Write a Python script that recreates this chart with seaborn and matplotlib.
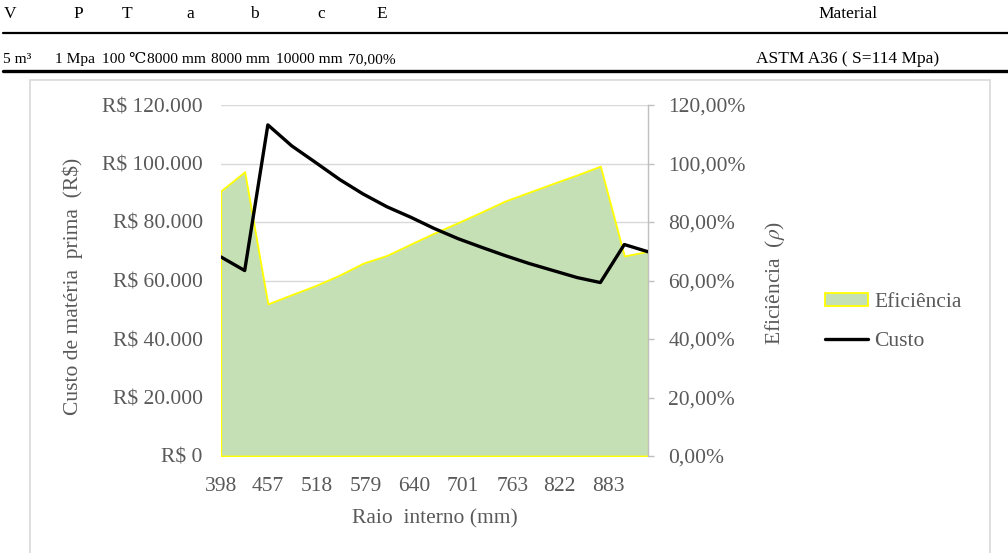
import matplotlib
matplotlib.use("Agg")
import matplotlib.pyplot as plt
import seaborn as sns
import pandas as pd
from matplotlib.patches import Patch, Rectangle
from matplotlib.lines import Line2D
from matplotlib.ticker import FuncFormatter, FixedLocator

# ---------------- data ----------------
raio_mm = [398, 428, 457, 487, 517, 547, 576, 606, 636, 665,
           695, 725, 754, 784, 814, 844, 873, 903, 933]
custo_rs = [68100, 63400, 113200, 106000, 100300, 94500, 89600, 85200, 81600, 77800,
            74300, 71300, 68500, 65800, 63400, 61000, 59300, 72300, 69800]
eficiencia_pct = [90.6, 97.2, 52.0, 55.2, 58.3, 61.9, 65.9, 68.6, 72.5, 76.2,
                  79.8, 83.5, 87.2, 90.2, 93.2, 96.1, 99.1, 68.4, 70.0]
x_tick_values = [398, 457, 518, 579, 640, 701, 763, 822, 883]
custo_ticks = [0, 20000, 40000, 60000, 80000, 100000, 120000]
efic_ticks = [0, 20, 40, 60, 80, 100, 120]

table_header = ["V", "P", "T", "a", "b", "c", "E", "Material"]
table_values = ["5 m³", "1 Mpa", "100 ℃", "8000 mm", "8000 mm", "10000 mm", "70,00%",
                "ASTM A36 ( S=114 Mpa)"]

# ---------------- style ----------------
sns.set_theme(style="white")
plt.rcParams['font.family'] = ['Liberation Serif', 'DejaVu Serif', 'DejaVu Sans']
plt.rcParams['mathtext.fontset'] = 'stix'

W, H = 1008, 553
TXT = '#595959'
GRID = '#d9d9d9'
FS = 15.5

fig = plt.figure(figsize=(W / 100, H / 100), dpi=100)
fig.patch.set_facecolor('white')

left, right, top, bottom = 220.7, 648.3, 105.0, 456.0
ax1 = fig.add_axes([left / W, 1 - bottom / H, (right - left) / W, (bottom - top) / H])
ax2 = ax1.twinx()
ax1.set_zorder(ax2.get_zorder() + 1)
ax1.patch.set_visible(False)

df = pd.DataFrame({'raio': raio_mm, 'custo': custo_rs, 'eficiencia': eficiencia_pct})

# area (efficiency) on secondary axis
ax2.fill_between(df['raio'], df['eficiencia'], 0, facecolor='#c5e0b4',
                 edgecolor='#ffff00', linewidth=1.3, zorder=2)
# cost line on primary axis
sns.lineplot(data=df, x='raio', y='custo', ax=ax1, color='black', linewidth=2.4,
             legend=False)

# axes limits & ticks
ax1.set_xlim(raio_mm[0], raio_mm[-1])
ax1.set_ylim(0, 120000)
ax2.set_ylim(0, 120)
ax1.xaxis.set_major_locator(FixedLocator(x_tick_values))
ax1.set_xticklabels([str(v) for v in x_tick_values])
ax1.yaxis.set_major_locator(FixedLocator(custo_ticks))
ax1.yaxis.set_major_formatter(FuncFormatter(
    lambda v, p: "R\\$ " + f"{v:,.0f}".replace(",", ".")))
ax2.yaxis.set_major_locator(FixedLocator(efic_ticks))
ax2.yaxis.set_major_formatter(FuncFormatter(
    lambda v, p: f"{v:.2f}%".replace(".", ",")))

ax1.set_xlabel("")
ax1.set_ylabel("")
ax2.set_ylabel("")

# grid drawn on the lower axes so the area covers it
ax2.set_axisbelow(True)
ax2.grid(True, axis='both', color=GRID, linewidth=1.0)
ax1.grid(False)

for s in ax1.spines.values():
    s.set_visible(False)
for name, s in ax2.spines.items():
    s.set_visible(name == 'right')
ax2.spines['right'].set_color('#bfbfbf')
ax2.spines['right'].set_linewidth(1.0)

ax1.tick_params(axis='x', length=0, pad=15, labelsize=FS, labelcolor=TXT)
ax1.tick_params(axis='y', length=0, pad=13, labelsize=FS, labelcolor=TXT)
ax2.tick_params(axis='y', which='major', direction='out', length=4.5, width=1.0,
                color='#bfbfbf', pad=10, labelsize=FS, labelcolor=TXT, right=True)

# axis titles
fig.text(73 / W, 1 - 286.7 / H, "Custo de matéria  prima  (R\\$)", rotation=90,
         ha='center', va='center', rotation_mode='anchor', fontsize=FS, color=TXT)
fig.text(775 / W, 1 - 282.5 / H, r"Eficiência  ($\rho$)", rotation=90,
         ha='center', va='center', rotation_mode='anchor', fontsize=FS, color=TXT)
fig.text(435 / W, 1 - 519 / H, "Raio  interno (mm)", ha='center', va='center',
         fontsize=FS, color=TXT)

# legend
handles = [Patch(facecolor='#c5e0b4', edgecolor='#ffff00', linewidth=1.3),
           Line2D([0], [0], color='black', linewidth=2.4)]
leg = fig.legend(handles, ["Eficiência", "Custo"], loc='center left',
                 bbox_to_anchor=(825 / W, 1 - 322 / H), frameon=False,
                 fontsize=FS, handlelength=2.0, handleheight=0.55,
                 handletextpad=0.3, labelspacing=0.95, borderpad=0,
                 borderaxespad=0)
for t in leg.get_texts():
    t.set_color(TXT)

# chart area border
fig.add_artist(Rectangle((30 / W, -0.02), (990 - 30) / W, 1 - 80 / H + 0.02,
                         transform=fig.transFigure, fill=False,
                         edgecolor=GRID, linewidth=1.2))

# table above the chart
header_x = [4, 73, 122, 186, 250, 317, 376, 848]
value_x = [3, 55, 102, 147, 211, 276, 348, 848]
for i, (h, xh) in enumerate(zip(table_header, header_x)):
    last = i == len(table_header) - 1
    fig.text(xh / W, 1 - 18 / H, h, ha='center' if last else 'left',
             va='baseline', fontsize=12.5, color='black')
for i, (v, xv) in enumerate(zip(table_values, value_x)):
    last = i == len(table_values) - 1
    fig.text(xv / W, 1 - 63 / H, v, ha='center' if last else 'left',
             va='baseline', fontsize=12.5 if last else 11.1, color='black')
fig.add_artist(Line2D([3 / W, 1.0], [1 - 33 / H] * 2, transform=fig.transFigure,
                      color='black', linewidth=1.6))
fig.add_artist(Line2D([3 / W, 1.0], [1 - 71 / H] * 2, transform=fig.transFigure,
                      color='black', linewidth=2.4))

fig.savefig("out.png", dpi=100, facecolor='white')
